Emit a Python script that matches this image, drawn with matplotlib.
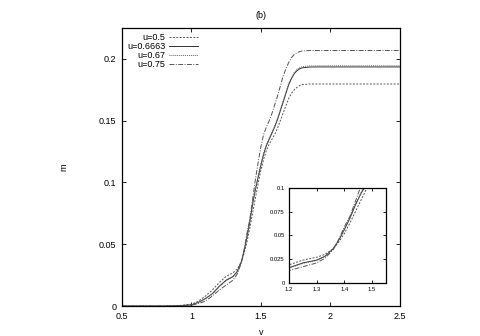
import matplotlib
matplotlib.use("Agg")
import matplotlib.pyplot as plt
from matplotlib.ticker import FuncFormatter

plt.rcParams['font.family'] = ['Liberation Sans', 'DejaVu Sans']

v = [0.5, 0.8, 0.9, 1.0, 1.05, 1.1, 1.15, 1.2, 1.25, 1.3, 1.33, 1.36, 1.38, 1.4,
     1.42, 1.44, 1.46, 1.48, 1.5, 1.52, 1.54, 1.56, 1.58, 1.6, 1.62, 1.64, 1.66,
     1.68, 1.7, 1.72, 1.74, 1.76, 1.78, 1.8, 1.85, 1.9, 2.0, 2.5]

m_u050 = [0, 0, 0.0003, 0.0015, 0.004, 0.008, 0.013, 0.019, 0.024, 0.027, 0.030,
          0.036, 0.043, 0.052, 0.063, 0.075, 0.087, 0.099, 0.110, 0.119, 0.126,
          0.131, 0.135, 0.139, 0.144, 0.150, 0.156, 0.162, 0.168, 0.172, 0.175,
          0.177, 0.1785, 0.1792, 0.1797, 0.1797, 0.1797, 0.1797]
m_u06663 = [0, 0, 0.0002, 0.001, 0.003, 0.006, 0.010, 0.016, 0.021, 0.024, 0.028,
            0.036, 0.045, 0.056, 0.068, 0.082, 0.094, 0.104, 0.114, 0.123, 0.130,
            0.135, 0.140, 0.145, 0.151, 0.158, 0.165, 0.172, 0.179, 0.184, 0.188,
            0.1905, 0.192, 0.1928, 0.1934, 0.1935, 0.1935, 0.1935]
m_u067 = [0, 0, 0.0002, 0.001, 0.003, 0.006, 0.0095, 0.0155, 0.0205, 0.0235, 0.0278,
          0.0362, 0.0455, 0.0568, 0.0690, 0.0830, 0.0950, 0.1050, 0.1150, 0.1240,
          0.1310, 0.1360, 0.1410, 0.1460, 0.1520, 0.1590, 0.1660, 0.1730, 0.1800,
          0.1850, 0.1890, 0.1915, 0.1930, 0.1938, 0.1943, 0.1944, 0.1944, 0.1944]
m_u075 = [0, 0, 0.0001, 0.0007, 0.002, 0.004, 0.008, 0.013, 0.017, 0.021, 0.026,
          0.035, 0.046, 0.059, 0.070, 0.086, 0.102, 0.116, 0.129, 0.139, 0.145,
          0.150, 0.156, 0.163, 0.170, 0.178, 0.186, 0.192, 0.197, 0.201, 0.2035,
          0.205, 0.206, 0.2064, 0.2068, 0.2068, 0.2068, 0.2068]

labels = ["u=0.5", "u=0.6663", "u=0.67", "u=0.75"]
series = [m_u050, m_u06663, m_u067, m_u075]
styles = [dict(ls=(0, (2, 1.5)), color='#555555'),
          dict(ls='-', color='#333333'),
          dict(ls=(0, (1, 1)), color='#666666'),
          dict(ls=(0, (5, 1.5, 1, 1.5)), color='#555555')]

fig = plt.figure(figsize=(4.8, 3.36), dpi=100)
ax = fig.add_axes([0.254, 0.089, 0.579, 0.8277])
for lab, m, st in zip(labels, series, styles):
    ax.plot(v, m, lw=0.7, label=lab, **st)

fmt = FuncFormatter(lambda x, p: f"{x:g}")
ax.set_xlim(0.5, 2.5)
ax.set_ylim(0, 0.225)
ax.set_xticks([0.5, 1, 1.5, 2, 2.5])
ax.set_yticks([0, 0.05, 0.1, 0.15, 0.2])
ax.xaxis.set_major_formatter(fmt)
ax.yaxis.set_major_formatter(fmt)
ax.tick_params(direction='in', top=True, right=True, labelsize=6.5, length=3, width=0.6, pad=4)
for s in ax.spines.values():
    s.set_linewidth(0.9)
ax.set_xlabel("v", fontsize=6.5, labelpad=5)
ax.set_ylabel("m", fontsize=6.5, labelpad=22)
ax.set_title("(b)", fontsize=6.5, pad=7)
leg = ax.legend(loc='upper left', markerfirst=False, frameon=False, fontsize=6.5,
                handlelength=3.2, labelspacing=0.0, borderaxespad=0.15,
                bbox_to_anchor=(0.0, 1.0), handletextpad=0.45)

ins = fig.add_axes([0.602, 0.158, 0.202, 0.283])
for lab, m, st in zip(labels, series, styles):
    ins.plot(v, m, lw=0.7, **st)
ins.set_xlim(1.2, 1.55)
ins.set_ylim(0, 0.1)
ins.set_xticks([1.2, 1.3, 1.4, 1.5])
ins.set_yticks([0, 0.025, 0.05, 0.075, 0.1])
ins.xaxis.set_major_formatter(fmt)
ins.yaxis.set_major_formatter(fmt)
ins.tick_params(direction='in', top=True, right=True, labelsize=4.2, length=2.5, width=0.6, pad=3)
for s in ins.spines.values():
    s.set_linewidth(0.9)

fig.savefig("out.png", dpi=100)
